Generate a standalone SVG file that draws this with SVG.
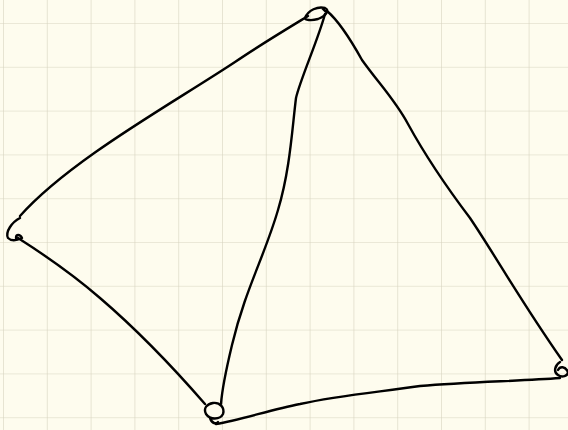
<svg xmlns="http://www.w3.org/2000/svg" width="568" height="430" viewBox="0 0 568 430">
<defs>
<pattern id="grid" x="3" y="23" width="43.8" height="43.8" patternUnits="userSpaceOnUse">
<path d="M0 0 H43.8 M0 0 V43.8" fill="none" stroke="#d8d4c0" stroke-width="1.2"/>
</pattern>
<style>
.ink{fill:none;stroke:#000;stroke-width:2.4;stroke-linecap:round;stroke-linejoin:round}
</style>
</defs>
<rect width="568" height="430" fill="#fefcee"/>
<rect width="568" height="430" fill="url(#grid)"/>
<g id="connectors">
<path class="ink" d="M308 16 C285 30 260 45 235 62 C170 105 70 160 20 216"/>
<path class="ink" d="M325 14 C318 40 300 80 296 98 C292 130 290 170 278 210 C265 255 245 290 232 345 C226 370 222 390 221 404"/>
<path class="ink" d="M327 11 C340 22 352 42 362 60 C380 85 395 100 408 124 C425 155 445 185 470 218 C495 255 520 300 562 360"/>
<path class="ink" d="M18 238 C40 252 70 272 100 298 C135 328 165 358 205 404"/>
<path class="ink" d="M216 424 C240 420 270 410 300 404 C340 395 380 392 420 386 C470 382 520 381 560 378"/>
</g>
<g id="n1"><path class="ink" d="M305 18 C308 10 318 6 325 8 C330 10 326 16 318 19 C311 21 305 20 305 18 M322 8 L326 12"/></g>
<g id="n2"><path class="ink" d="M20 218 C12 222 5 232 8 238 C12 242 18 240 22 238 C20 234 16 234 16 238"/></g>
<g id="n3"><path class="ink" d="M213 403 C220 402 225 408 223 414 C220 420 210 420 206 414 C203 408 207 404 213 403 M210 418 C212 424 216 424 218 422"/></g>
<g id="n4"><path class="ink" d="M560 362 C555 365 553 372 558 375 C562 378 568 376 568 372 C565 366 560 366 558 370"/></g>
</svg>
